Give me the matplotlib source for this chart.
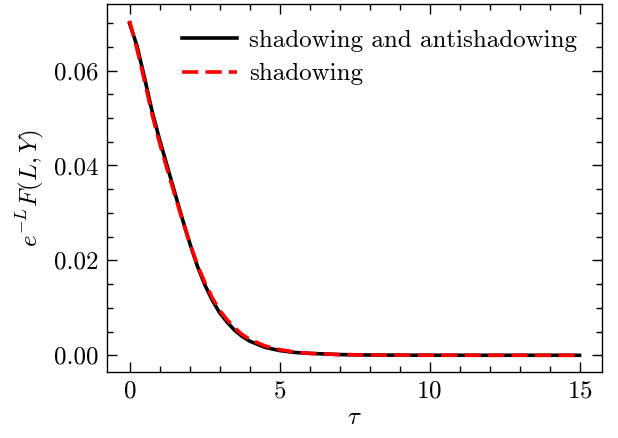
import matplotlib
matplotlib.use("Agg")
import matplotlib.pyplot as plt
from matplotlib.ticker import MultipleLocator, FormatStrFormatter

tau = [0, 0.25, 0.5, 0.75, 1.0, 1.25, 1.5, 1.75, 2.0, 2.25, 2.5, 2.75, 3.0,
       3.25, 3.5, 3.75, 4.0, 4.5, 5.0, 5.5, 6.0, 7.0, 8.0, 9.0, 10.0, 12.0, 15.0]
shadow_anti = [0.0700, 0.0652, 0.0585, 0.0515, 0.0455, 0.0400, 0.0345, 0.0290,
               0.0238, 0.0190, 0.0150, 0.0117, 0.0090, 0.0070, 0.0053, 0.0040,
               0.0030, 0.0017, 0.0010, 0.0006, 0.0004, 0.00015, 0.00005,
               0.00002, 0.00001, 0.0, 0.0]
shadow = [0.0705, 0.0645, 0.0578, 0.0508, 0.0448, 0.0393, 0.0340, 0.0287,
          0.0238, 0.0193, 0.0155, 0.0122, 0.0095, 0.0075, 0.0058, 0.0044,
          0.0034, 0.0020, 0.0012, 0.0007, 0.0004, 0.00015, 0.00005,
          0.00002, 0.00001, 0.0, 0.0]

plt.rcParams.update({
    "font.family": "serif",
    "font.serif": ["cmr10"],
    "mathtext.fontset": "cm",
    "axes.formatter.use_mathtext": True,
    "axes.unicode_minus": False,
    "font.size": 18,
    "xtick.direction": "in",
    "ytick.direction": "in",
    "xtick.top": True,
    "ytick.right": True,
    "xtick.major.size": 7,
    "ytick.major.size": 7,
    "xtick.minor.size": 4,
    "ytick.minor.size": 4,
    "xtick.major.width": 1.0,
    "ytick.major.width": 1.0,
    "xtick.minor.width": 1.0,
    "ytick.minor.width": 1.0,
    "xtick.major.pad": 6,
    "ytick.major.pad": 6,
    "axes.linewidth": 1.0,
})

fig = plt.figure(figsize=(6.18, 4.38), dpi=100)
ax = fig.add_axes([107/618, 1-372/438, (602-107)/618, (372-4)/438])

ax.plot(tau, shadow_anti, color="black", lw=2.6, label="shadowing and antishadowing")
ax.plot(tau, shadow, color="red", lw=2.6, ls=(0, (4.5, 2)), label="shadowing")

ax.xaxis.set_major_locator(MultipleLocator(5))
ax.xaxis.set_minor_locator(MultipleLocator(1))
ax.yaxis.set_major_locator(MultipleLocator(0.02))
ax.yaxis.set_minor_locator(MultipleLocator(0.005))
ax.yaxis.set_major_formatter(FormatStrFormatter("%.2f"))

ax.set_xlabel(r"$\tau$", labelpad=3)
ax.set_ylabel(r"$e^{-L}F(L,Y)$", labelpad=6)

ax.legend(frameon=False, loc="upper right", handlelength=2.2, handletextpad=0.5,
          fontsize=18, borderaxespad=0.6, labelspacing=0.45)

fig.savefig("out.png", dpi=100)
